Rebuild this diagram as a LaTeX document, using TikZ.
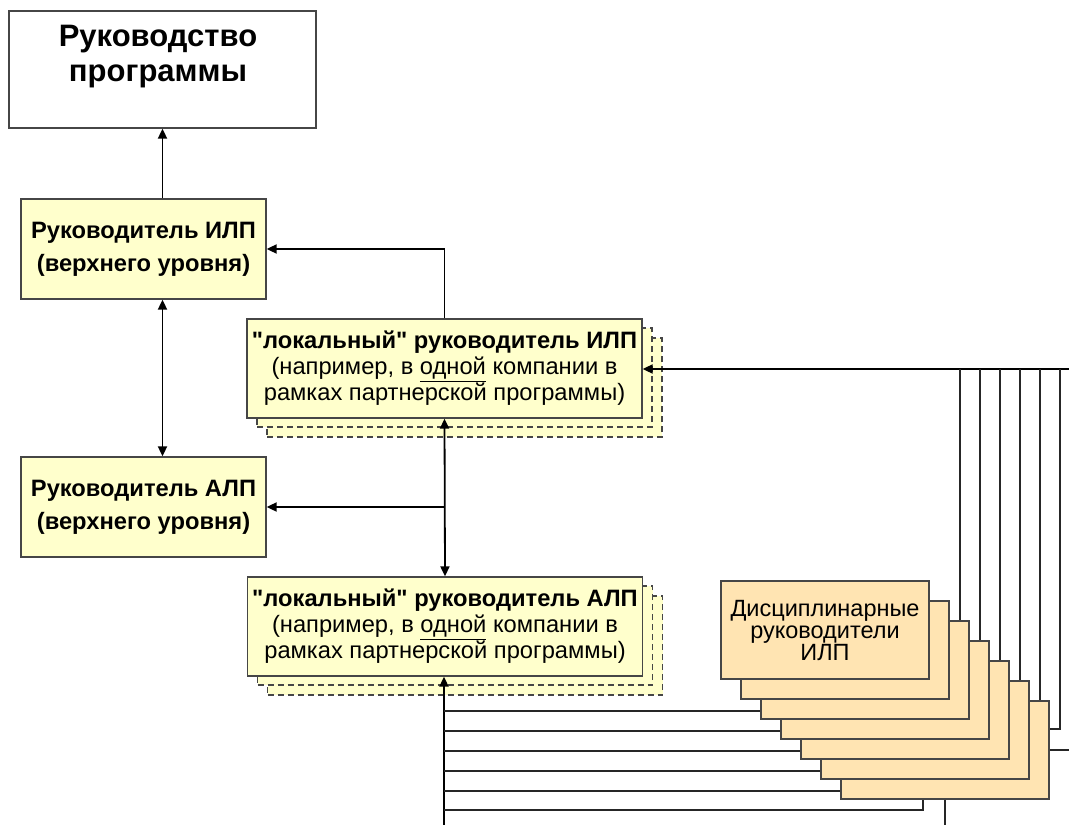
\documentclass[tikz,border=0pt]{standalone}
\usepackage{fontspec}
\setmainfont{Liberation Sans}[Ligatures=TeXOff]
\usetikzlibrary{arrows.meta}

\definecolor{boxyellow}{RGB}{255,255,204}
\definecolor{boxpeach}{RGB}{255,228,178}
\definecolor{boxline}{RGB}{70,70,70}

\tikzset{
  progbox/.style = {draw=boxline, fill=white, line width=1.3pt,
    minimum width=307pt, minimum height=117pt},
  chief/.style = {draw=boxline, fill=boxyellow, line width=1.3pt,
    minimum width=245pt, minimum height=100pt, inner sep=2pt, align=center,
    font=\bfseries\fontsize{23.7}{33}\selectfont},
  localbox/.style = {draw=boxline, fill=boxyellow, line width=1.3pt,
    minimum width=395pt, minimum height=99pt, inner sep=2pt, align=center,
    font=\fontsize{23.7}{26}\selectfont},
  localshadow/.style = {draw=boxline, fill=boxyellow, line width=1.3pt,
    dash pattern=on 6pt off 4pt, minimum width=395pt, minimum height=99pt},
  discbox/.style = {draw=boxline, fill=boxpeach, line width=1.3pt,
    minimum width=208pt, minimum height=98pt, inner sep=2pt, align=center,
    font=\fontsize{23.5}{22}\selectfont},
  arr/.style = {-{Triangle[length=10pt,width=9pt]}, line width=1.8pt},
  dblarr/.style = {{Triangle[length=10pt,width=9pt]}-{Triangle[length=10pt,width=9pt]}, line width=1.8pt},
  bus/.style = {line width=1.7pt, draw=black!85}
}

\begin{document}
\begin{tikzpicture}[x=1pt, y=-1pt]
\useasboundingbox (0,0) rectangle (1069,825);

% upper level
\node [progbox] (prog) at (162.5,69.5) {};
\node [font=\bfseries\fontsize{31}{35}\selectfont, align=center] (progtext)
  at (158,57) {Руководство\\программы};
\node [chief] (ilp) at (143.5,249) {Руководитель ИЛП\\(верхнего уровня)};
\node [chief] (alp) at (143.5,507) {Руководитель АЛП\\(верхнего уровня)};

% local managers with their shadows
\foreach \s/\t in {20/19,10/9} {
  \node [localshadow] at (444.5+\s,368.5+\t) {};
  \node [localshadow] at (445+\s,626.5+\t) {};
}
\node [localbox] (locilp) at (444.5,368.5)
  {\textbf{"локальный" руководитель ИЛП}\\(например, в \underline{одной} компании в\\рамках партнерской программы)};
\node [localbox] (localp) at (445,626.5)
  {\textbf{"локальный" руководитель АЛП}\\(например, в \underline{одной} компании в\\рамках партнерской программы)};

% discipline managers, back to front
\foreach \j in {6,5,...,1}
  \node [discbox] (disc\j) at (825+20*\j,630+20*\j) {};
\node [discbox] (disc0) at (825,630) {Дисциплинарные\\руководители\\ИЛП};

% links between the levels
\draw [arr] (ilp.north -| prog.south) to (prog.south);
\draw [dblarr] (ilp.south -| prog.south) to (alp.north -| prog.south);
\draw [arr] (locilp.north) |- (ilp.east);
\draw [dblarr] (locilp.south) to (localp.north);
\draw [arr] (locilp.south |- alp.east) to (alp.east);

% buses to the discipline managers
\coordinate (busR) at (1069,369);
\coordinate (busB) at (444,825);
\coordinate (busE) at (1069,750);
\draw [arr] (busR) to (locilp.east |- busR);
\draw [arr] (busB) to (busB |- localp.south);
\foreach \j in {2,...,6} {
  \coordinate (top\j) at (920+20*\j,369);
  \coordinate (left\j) at (444,671+20*\j);
  \draw [bus] (top\j) to (top\j |- disc\j.north);
  \draw [bus] (left\j) to (left\j -| disc\j.west);
}
\coordinate (top7) at (1060,369);
\coordinate (left7) at (444,810);
\draw [bus] (top7) |- ([yshift=21pt]disc6.east);
\draw [bus] (left7) -| ([xshift=-22pt]disc6.south);
\draw [bus] (disc6.east) to (busE);
\draw [bus] (disc6.south) to (disc6.south |- busB);
\end{tikzpicture}
\end{document}
